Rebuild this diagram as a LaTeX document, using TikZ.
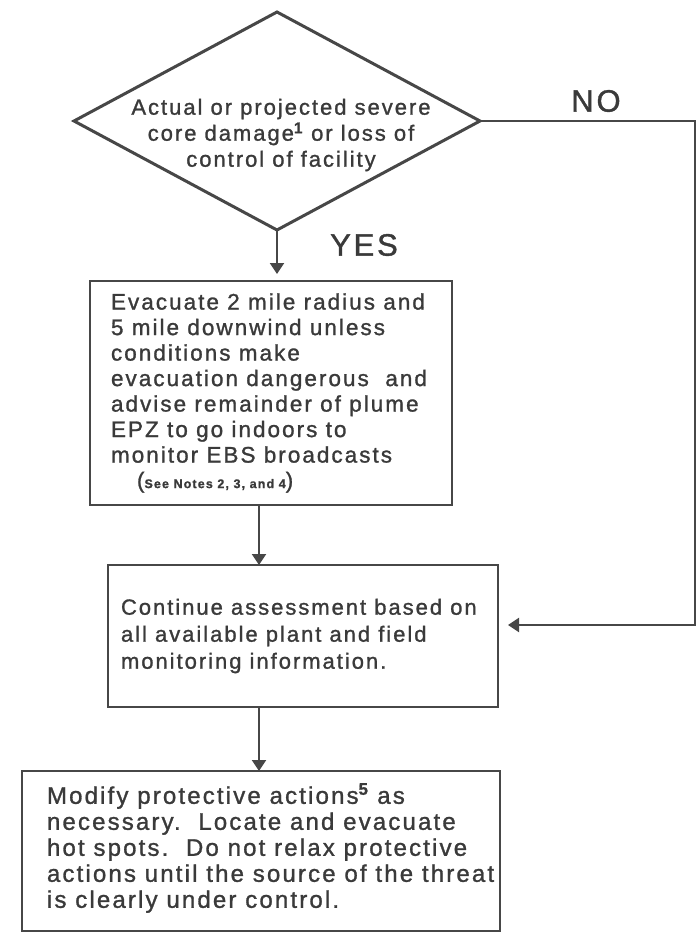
\documentclass[tikz,border=0pt]{standalone}
\usepackage{fontspec}
\setmainfont{Liberation Sans}[LetterSpace=9, FakeBold=1.2]
\usetikzlibrary{arrows.meta,shapes.geometric}

\definecolor{ink}{HTML}{3A3A3A}
\definecolor{rule}{HTML}{474747}

\begin{document}
\begin{tikzpicture}[x=1pt,y=-1pt,
  every node/.style={text=ink, inner sep=0pt, outer sep=0pt},
  frame/.style={draw=rule, line width=2pt},
  decision/.style={diamond, draw=rule, line width=3pt},
  bodytext/.style={align=left},
  conn/.style={draw=rule, line width=2pt, -{Triangle[length=11pt,width=14pt]}},
  answer/.style={font=\fontsize{31}{33}\selectfont}
]
\useasboundingbox (0,0) rectangle (699,940);

% decision diamond and its question
\node[decision, minimum width=406pt, minimum height=218pt] (dec) at (277,121) {};
\node[align=center, font=\fontsize{22}{26}\selectfont] (dectext) at (281,135)
  {Actual or projected severe\\
   core damage\textsuperscript{\bfseries 1} or loss of\\
   control of facility};

% action boxes
\node[frame, minimum width=362pt, minimum height=224pt] (box1) at (271,393) {};
\node[bodytext, anchor=west, font=\fontsize{22.5}{25.5}\selectfont] (box1text)
  at ([xshift=21pt]box1.west)
  {Evacuate 2 mile radius and\\
   5 mile downwind unless\\
   conditions make\\
   evacuation dangerous\ \ and\\
   advise remainder of plume\\
   EPZ to go indoors to\\
   monitor EBS broadcasts\\
   \hspace*{26pt}({\fontsize{12.5}{14}\selectfont\bfseries See Notes 2, 3, and 4})};

\node[frame, minimum width=390pt, minimum height=142pt] (box2) at (303,636) {};
\node[bodytext, anchor=west, font=\fontsize{22}{27}\selectfont] (box2text)
  at ([xshift=13pt]box2.west)
  {Continue assessment based on\\
   all available plant and field\\
   monitoring information.};

\node[frame, minimum width=478pt, minimum height=160pt] (box3) at (261,851) {};
\node[bodytext, anchor=west, font=\fontsize{24}{26}\selectfont] (box3text)
  at ([xshift=25pt,yshift=3pt]box3.west)
  {Modify protective actions\textsuperscript{\bfseries 5} as\\
   necessary.\ \ Locate and evacuate\\
   hot spots.\ \ Do not relax protective\\
   actions until the source of the threat\\
   is clearly under control.};

% branch labels
\node[answer] (yes) at (364,245) {YES};
\node[answer] (no) at (596,101) {NO};

% connectors
\coordinate (ax) at (259,0);
\coordinate (nocorner) at (695,625);
\draw[conn, shorten >=7pt] (dec.south) -- (dec.south |- box1.north);
\draw[conn] (box1.south -| ax) -- (box2.north -| ax);
\draw[conn] (box2.south -| ax) -- (box3.north -| ax);
\draw[conn, shorten >=10pt] (dec.east) -| (nocorner) -- (box2.east |- nocorner);
\end{tikzpicture}
\end{document}
